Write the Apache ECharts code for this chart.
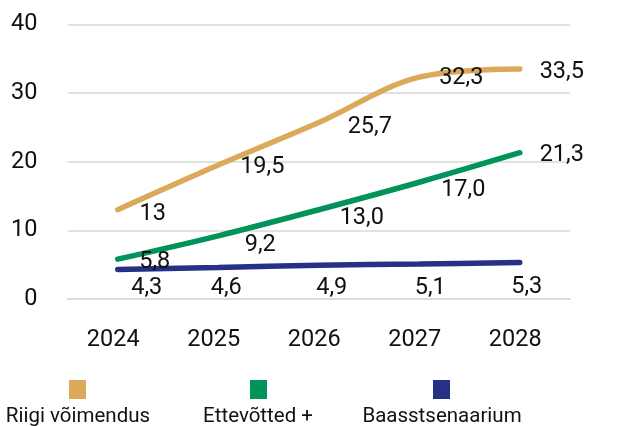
<!DOCTYPE html>
<html>
<head>
<meta charset="utf-8">
<script src="https://cdn.jsdelivr.net/npm/echarts@6/dist/echarts.min.js"></script>
<style>
html,body{margin:0;padding:0;background:#fff;}
#chart{width:617px;height:426px;}
</style>
</head>
<body>
<div id="chart"></div>
<script>
// ---- data ----
const years = ['2024', '2025', '2026', '2027', '2028'];
const seriesNames = ['Riigi võimendus', 'Ettevõtted +', 'Baasstsenaarium'];
const riigiValues = [13, 19.5, 25.7, 32.3, 33.5];
const ettevottedValues = [5.8, 9.2, 13.0, 17.0, 21.3];
const baasValues = [4.3, 4.6, 4.9, 5.1, 5.3];
const riigiLabels = ['13', '19,5', '25,7', '32,3', '33,5'];
const ettevottedLabels = ['5,8', '9,2', '13,0', '17,0', '21,3'];
const baasLabels = ['4,3', '4,6', '4,9', '5,1', '5,3'];
const yTicks = [0, 10, 20, 30, 40];

// ---- style ----
const colors = ['#DCA95B', '#00935A', '#263186'];
const labelOffsets = [
  [[35, 4], [44, 2], [51, 5], [42, 1], [42, 3]],
  [[37, 3], [42, 9], [43, 8], [44, 8], [42, 2]],
  [[29, 19], [8, 21], [13, 23], [11, 24], [7, 25]]
];
const FONT = 'Roboto';
const FS = 23.5;

const chart = echarts.init(document.getElementById('chart'));

function makeSeries(idx, values, labels) {
  return {
    name: seriesNames[idx],
    type: 'line',
    smooth: 0.35,
    symbol: 'circle',
    symbolSize: 0.01,
    z: 3 - idx,
    itemStyle: { color: colors[idx] },
    lineStyle: { color: colors[idx], width: 5.5, cap: 'round' },
    data: values.map((v, i) => ({
      value: v,
      label: { offset: labelOffsets[idx][i] }
    })),
    label: {
      show: true,
      position: 'inside',
      align: 'center',
      verticalAlign: 'middle',
      fontFamily: FONT,
      fontSize: FS,
      color: '#111',
      formatter: p => labels[p.dataIndex]
    },
    emphasis: { disabled: true },
    animation: false
  };
}

const legendLefts = [69, 250, 433];
const legendTextX = [78, 258, 442];

chart.setOption({
  animation: false,
  grid: { left: 67.5, right: 47, top: 24.3, bottom: 127, containLabel: false },
  xAxis: {
    type: 'category',
    data: years,
    boundaryGap: true,
    axisLine: { show: true, lineStyle: { color: '#D9D9D9', width: 1.5 } },
    axisTick: { show: false },
    axisLabel: { fontFamily: FONT, fontSize: FS, color: '#111', margin: 29, padding: [0, 9, 0, 0] }
  },
  yAxis: {
    type: 'value',
    min: yTicks[0],
    max: yTicks[yTicks.length - 1],
    interval: 10,
    axisLine: { show: false },
    axisTick: { show: false },
    splitLine: { lineStyle: { color: '#D9D9D9', width: 1.5 } },
    axisLabel: { fontFamily: FONT, fontSize: FS, color: '#111', margin: 30 }
  },
  legend: seriesNames.map((n, i) => ({
    data: [n],
    left: legendLefts[i],
    top: 380,
    icon: 'rect',
    itemWidth: 17,
    itemHeight: 19,
    padding: 0,
    selectedMode: false,
    formatter: () => '',
    textStyle: { fontSize: 1 }
  })),
  graphic: seriesNames.map((n, i) => ({
    type: 'text',
    x: legendTextX[i],
    y: 406,
    style: {
      text: n,
      fontFamily: FONT,
      fontSize: 20.5,
      fill: '#111',
      textAlign: 'center',
      textVerticalAlign: 'top'
    }
  })),
  series: [
    makeSeries(0, riigiValues, riigiLabels),
    makeSeries(1, ettevottedValues, ettevottedLabels),
    makeSeries(2, baasValues, baasLabels)
  ]
});
</script>
</body>
</html>
